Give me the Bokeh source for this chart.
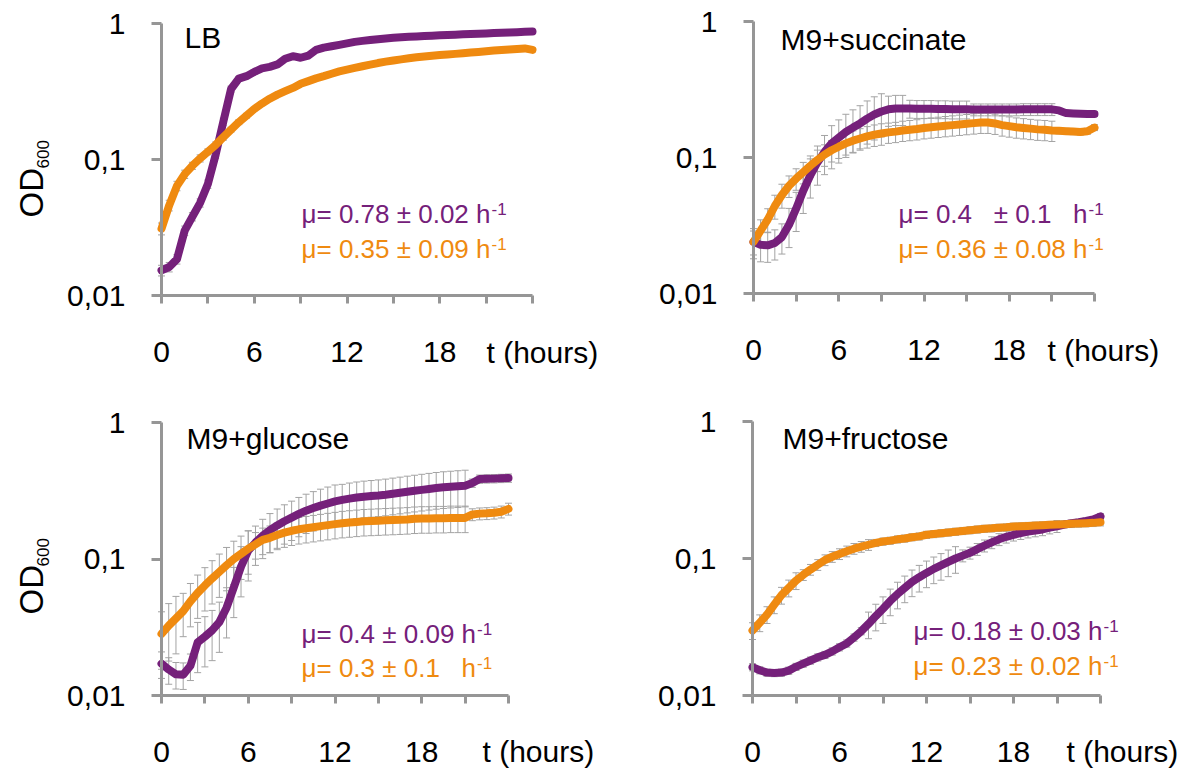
import math
from bokeh.plotting import figure
from bokeh.models import ColumnDataSource, Whisker, TeeHead, Label, FixedTicker, Range1d
from bokeh.layouts import row, column
from bokeh.embed import file_html
from bokeh.resources import INLINE

# ---------------- data ----------------
HOURS = [0.0, 0.5, 1.0, 1.5, 2.0, 2.5, 3.0, 3.5, 4.0, 4.5, 5.0, 5.5, 6.0, 6.5, 7.0, 7.5,
         8.0, 8.5, 9.0, 9.5, 10.0, 10.5, 11.0, 11.5, 12.0, 12.5, 13.0, 13.5, 14.0, 14.5,
         15.0, 15.5, 16.0, 16.5, 17.0, 17.5, 18.0, 18.5, 19.0, 19.5, 20.0, 20.5, 21.0,
         21.5, 22.0, 22.5, 23.0, 23.5, 24.0]

X_TICKS = [0, 3, 6, 9, 12, 15, 18, 21, 24]
X_TICK_LABELS = ["0", "", "6", "", "12", "", "18", "", ""]
X_BOUNDS = (0, 24)
Y_TICKS = [0.01, 0.1, 1]
Y_TICK_LABELS = ["0,01", "0,1", "1"]
Y_BOUNDS = (0.01, 1)
X_UNIT = "t (hours)"
Y_TITLE = "OD"
Y_TITLE_SUB = "600"

MEDIA = ["LB", "M9+succinate", "M9+glucose", "M9+fructose"]
RATE_PURPLE = ["μ= 0.78 ± 0.02 h", "μ= 0.4\u00a0\u00a0 ± 0.1\u00a0\u00a0 h",
               "μ= 0.4 ± 0.09 h", "μ= 0.18 ± 0.03 h"]
RATE_ORANGE = ["μ= 0.35 ± 0.09 h", "μ= 0.36 ± 0.08 h",
               "μ= 0.3 ± 0.1\u00a0\u00a0 h", "μ= 0.23 ± 0.02 h"]
RATE_EXP = "-1"

LB_PURPLE = [0.0153, 0.0162, 0.0185, 0.030, 0.038, 0.048, 0.066, 0.108, 0.190, 0.330,
             0.393, 0.410, 0.440, 0.468, 0.480, 0.500, 0.550, 0.575, 0.560, 0.580,
             0.640, 0.665, 0.680, 0.697, 0.715, 0.733, 0.745, 0.757, 0.767, 0.776,
             0.785, 0.792, 0.798, 0.804, 0.810, 0.814, 0.818, 0.823, 0.828, 0.832,
             0.836, 0.840, 0.845, 0.850, 0.855, 0.860, 0.864, 0.868, 0.873]
LB_PURPLE_ERR = [0.09, 0.08, 0.08, 0.08, 0.07, 0.07, 0.07, 0.06, 0.06, 0.05,
                 0.04, 0.04, 0.04, 0.03, 0.03, 0.03, 0.03, 0.03, 0.03, 0.03,
                 0.03, 0.03, 0.03, 0.03, 0.03, 0.03, 0.03, 0.03, 0.03, 0.03,
                 0.03, 0.03, 0.03, 0.03, 0.03, 0.03, 0.03, 0.03, 0.03, 0.03,
                 0.03, 0.03, 0.03, 0.03, 0.03, 0.03, 0.03, 0.03, 0.03]
LB_ORANGE = [0.031, 0.046, 0.064, 0.078, 0.090, 0.102, 0.114, 0.128, 0.146, 0.166,
             0.188, 0.210, 0.235, 0.258, 0.280, 0.300, 0.318, 0.336, 0.360, 0.377,
             0.395, 0.410, 0.427, 0.444, 0.458, 0.472, 0.485, 0.498, 0.512, 0.524,
             0.535, 0.545, 0.555, 0.564, 0.572, 0.580, 0.586, 0.592, 0.598, 0.605,
             0.612, 0.618, 0.625, 0.632, 0.638, 0.644, 0.650, 0.656, 0.640]
LB_ORANGE_ERR = [0.10, 0.09, 0.08, 0.07, 0.06, 0.06, 0.05, 0.05, 0.05, 0.04,
                 0.04, 0.04, 0.03, 0.03, 0.03, 0.03, 0.03, 0.03, 0.03, 0.03,
                 0.03, 0.03, 0.03, 0.03, 0.03, 0.03, 0.03, 0.03, 0.03, 0.03,
                 0.03, 0.03, 0.03, 0.03, 0.03, 0.03, 0.03, 0.03, 0.03, 0.03,
                 0.03, 0.03, 0.03, 0.03, 0.03, 0.03, 0.03, 0.03, 0.03]

SUC_PURPLE = [0.0240, 0.0228, 0.0226, 0.0235, 0.0260, 0.032, 0.042, 0.057, 0.074, 0.092,
              0.110, 0.127, 0.140, 0.154, 0.166, 0.178, 0.193, 0.207, 0.218, 0.226,
              0.229, 0.229, 0.229, 0.228, 0.228, 0.228, 0.227, 0.227, 0.226, 0.226,
              0.226, 0.225, 0.225, 0.225, 0.225, 0.225, 0.225, 0.225, 0.226, 0.226,
              0.226, 0.226, 0.226, 0.222, 0.212, 0.211, 0.210, 0.209, 0.209]
SUC_PURPLE_ERR = [0.25, 0.25, 0.25, 0.25, 0.25, 0.32, 0.32, 0.32, 0.32, 0.32,
                  0.32, 0.35, 0.35, 0.35, 0.35, 0.35, 0.35, 0.35, 0.35, 0.25,
                  0.25, 0.25, 0.15, 0.15, 0.15, 0.15, 0.15, 0.15, 0.15, 0.15,
                  0.15, 0.10, 0.10, 0.10, 0.10, 0.10, 0.10, 0.10, 0.10, 0.10,
                  0.10, 0.10, 0.10, 0.04, 0.04, 0.04, 0.04, 0.04, 0.04]
SUC_ORANGE = [0.0240, 0.0290, 0.0350, 0.0440, 0.0530, 0.062, 0.070, 0.078, 0.087, 0.096,
              0.105, 0.113, 0.120, 0.127, 0.133, 0.138, 0.143, 0.147, 0.150, 0.153,
              0.155, 0.158, 0.160, 0.162, 0.165, 0.167, 0.169, 0.171, 0.173, 0.175,
              0.177, 0.179, 0.181, 0.181, 0.178, 0.173, 0.170, 0.167, 0.165, 0.163,
              0.161, 0.160, 0.158, 0.157, 0.156, 0.155, 0.154, 0.156, 0.166]
SUC_ORANGE_ERR = [0.20, 0.20, 0.20, 0.20, 0.20, 0.18, 0.18, 0.18, 0.18, 0.18,
                  0.18, 0.18, 0.18, 0.18, 0.18, 0.18, 0.18, 0.18, 0.18, 0.17,
                  0.17, 0.17, 0.17, 0.17, 0.17, 0.17, 0.17, 0.17, 0.17, 0.17,
                  0.17, 0.17, 0.17, 0.17, 0.17, 0.17, 0.17, 0.17, 0.17, 0.17,
                  0.17, 0.17, 0.17, 0.05, 0.05, 0.05, 0.05, 0.05, 0.05]

GLU_PURPLE = [0.0171, 0.0155, 0.0143, 0.0142, 0.0165, 0.0245, 0.0270, 0.0300, 0.0345, 0.0440,
              0.0620, 0.0880, 0.115, 0.132, 0.148, 0.163, 0.176, 0.189, 0.201, 0.214,
              0.226, 0.236, 0.246, 0.255, 0.264, 0.271, 0.277, 0.282, 0.286, 0.289,
              0.292, 0.296, 0.301, 0.306, 0.311, 0.316, 0.321, 0.326, 0.331, 0.335,
              0.338, 0.341, 0.344, 0.360, 0.385, 0.387, 0.388, 0.390, 0.392]
GLU_PURPLE_ERR = [0.22, 0.22, 0.22, 0.22, 0.22, 0.40, 0.40, 0.40, 0.40, 0.40,
                  0.40, 0.40, 0.40, 0.32, 0.32, 0.32, 0.32, 0.32, 0.32, 0.32,
                  0.32, 0.32, 0.32, 0.32, 0.32, 0.30, 0.30, 0.30, 0.30, 0.30,
                  0.30, 0.30, 0.30, 0.30, 0.30, 0.30, 0.30, 0.30, 0.30, 0.30,
                  0.30, 0.30, 0.30, 0.07, 0.07, 0.07, 0.07, 0.07, 0.07]
GLU_ORANGE = [0.0283, 0.0325, 0.0367, 0.0415, 0.0490, 0.0565, 0.0640, 0.0720, 0.0805, 0.0900,
              0.1000, 0.1090, 0.1190, 0.1280, 0.1380, 0.1430, 0.1500, 0.1560, 0.1610, 0.1650,
              0.1680, 0.1710, 0.1740, 0.1770, 0.1800, 0.1830, 0.1850, 0.1870, 0.1890, 0.1900,
              0.1910, 0.1920, 0.1930, 0.1940, 0.1950, 0.1970, 0.1980, 0.1980, 0.1990, 0.1990,
              0.2000, 0.2000, 0.2000, 0.2120, 0.2150, 0.2160, 0.2180, 0.2220, 0.2330]
GLU_ORANGE_ERR = [0.45, 0.45, 0.45, 0.35, 0.35, 0.35, 0.35, 0.35, 0.35, 0.35,
                  0.35, 0.35, 0.35, 0.22, 0.22, 0.22, 0.22, 0.22, 0.22, 0.22,
                  0.22, 0.22, 0.22, 0.22, 0.22, 0.22, 0.22, 0.22, 0.22, 0.22,
                  0.22, 0.22, 0.22, 0.22, 0.22, 0.22, 0.22, 0.22, 0.22, 0.22,
                  0.22, 0.22, 0.22, 0.10, 0.10, 0.10, 0.10, 0.10, 0.10]

FRU_PURPLE = [0.0161, 0.0153, 0.0147, 0.0146, 0.0147, 0.0152, 0.0162, 0.0171, 0.0180, 0.0190,
              0.0198, 0.0210, 0.0225, 0.0240, 0.0265, 0.0295, 0.0333, 0.0380, 0.0430, 0.0490,
              0.0550, 0.0610, 0.0675, 0.0730, 0.0785, 0.0840, 0.0890, 0.0945, 0.1000, 0.1050,
              0.1100, 0.1170, 0.1240, 0.1310, 0.1380, 0.1440, 0.1490, 0.1530, 0.1570, 0.1600,
              0.1630, 0.1680, 0.1720, 0.1770, 0.1810, 0.1840, 0.1880, 0.1930, 0.2030]
FRU_PURPLE_ERR = [0.06, 0.06, 0.06, 0.06, 0.06, 0.06, 0.06, 0.06, 0.06, 0.06,
                  0.06, 0.06, 0.06, 0.06, 0.06, 0.06, 0.22, 0.22, 0.22, 0.22,
                  0.22, 0.22, 0.22, 0.22, 0.22, 0.22, 0.22, 0.22, 0.22, 0.10,
                  0.10, 0.10, 0.10, 0.10, 0.10, 0.10, 0.10, 0.10, 0.10, 0.10,
                  0.10, 0.10, 0.10, 0.05, 0.05, 0.05, 0.05, 0.05, 0.05]
FRU_ORANGE = [0.0298, 0.0340, 0.0390, 0.0460, 0.0540, 0.0610, 0.0690, 0.0760, 0.0830, 0.0900,
              0.0975, 0.1030, 0.1080, 0.1130, 0.1180, 0.1220, 0.1260, 0.1300, 0.1330, 0.1350,
              0.1380, 0.1400, 0.1430, 0.1450, 0.1490, 0.1510, 0.1530, 0.1550, 0.1570, 0.1590,
              0.1610, 0.1630, 0.1650, 0.1660, 0.1680, 0.1690, 0.1710, 0.1720, 0.1730, 0.1740,
              0.1750, 0.1760, 0.1770, 0.1780, 0.1790, 0.1800, 0.1810, 0.1820, 0.1840]
FRU_ORANGE_ERR = [0.14, 0.14, 0.14, 0.14, 0.14, 0.14, 0.14, 0.09, 0.09, 0.09,
                  0.09, 0.09, 0.09, 0.09, 0.09, 0.09, 0.09, 0.06, 0.06, 0.06,
                  0.06, 0.06, 0.06, 0.06, 0.06, 0.06, 0.06, 0.06, 0.06, 0.06,
                  0.06, 0.06, 0.06, 0.06, 0.06, 0.06, 0.06, 0.06, 0.06, 0.06,
                  0.06, 0.06, 0.06, 0.06, 0.06, 0.06, 0.06, 0.06, 0.06]

# ---------------- style ----------------
PURPLE = "#75207A"
ORANGE = "#EF8A10"
BAR_GREY = "#A3A3A3"
AXIS_GREY = "#969696"
FONT = "Liberation Sans"
BASELINE_FIX = 0.37   # rendered baseline sits this many em below the anchor

ARIAL_W = {"μ": 577, "=": 584, " ": 278, "\u00a0": 278, ".": 278, "±": 549, "h": 556}


def text_width(s, size):
    return sum(ARIAL_W.get(c, 556) for c in s) * size / 1000.0


def make_panel(k, ox, oy, w, h, L, R, T, B, purple, perr, orange, oerr, pos, standoff, ylabel=None):
    """(ox, oy): picture position of the canvas; L..R, T..B: picture pixels of the 0-24 h / 0.01-1 box."""
    s = (R - L) / 24.0          # px per hour
    D = (B - T) / 2.0           # px per decade
    xs = (ox - L) / s
    xe = (ox + w - L) / s
    ys = 10 ** (-2.0 + (B - (oy + h)) / D)
    ye = 10 ** (-2.0 + (B - oy) / D)

    p = figure(width=w, height=h, x_range=Range1d(xs, xe), y_range=Range1d(ys, ye),
               y_axis_type="log", output_backend="svg", toolbar_location=None,
               min_border=0, min_border_left=0, min_border_right=0,
               min_border_top=0, min_border_bottom=0)
    p.outline_line_color = None
    p.xgrid.visible = False
    p.ygrid.visible = False
    p.background_fill_color = "white"
    p.border_fill_color = "white"

    def dx(px):
        return (px - L) / s

    def dy(py):
        return 10 ** (-2.0 + (B - py) / D)

    for ax in (p.xaxis[0], p.yaxis[0]):
        ax.axis_line_color = AXIS_GREY
        ax.axis_line_width = 3
        ax.major_tick_line_color = AXIS_GREY
        ax.major_tick_line_width = 3
        ax.major_tick_in = 0
        ax.minor_tick_line_color = None
        ax.major_label_text_font = FONT
        ax.major_label_text_font_size = "30px"
        ax.major_label_text_color = "black"
    p.xaxis.fixed_location = Y_BOUNDS[0]
    p.xaxis.bounds = X_BOUNDS
    p.xaxis.ticker = FixedTicker(ticks=X_TICKS, minor_ticks=[])
    p.xaxis.major_label_overrides = dict(zip(X_TICKS, X_TICK_LABELS))
    p.xaxis.major_tick_out = 8
    p.xaxis.major_label_standoff = standoff
    p.yaxis.fixed_location = X_BOUNDS[0]
    p.yaxis.bounds = Y_BOUNDS
    p.yaxis.ticker = FixedTicker(ticks=Y_TICKS, minor_ticks=[])
    p.yaxis.major_label_overrides = dict(zip(Y_TICKS, Y_TICK_LABELS))
    p.yaxis.major_tick_out = 10
    p.yaxis.major_label_standoff = 26

    for vals, errs in ((purple, perr), (orange, oerr)):
        assert len(vals) == len(HOURS) and len(errs) == len(HOURS)
        src = ColumnDataSource(dict(
            t=HOURS, v=vals,
            lo=[v * (1 - e) for v, e in zip(vals, errs)],
            hi=[v * (1 + e) for v, e in zip(vals, errs)]))
        p.add_layout(Whisker(source=src, base="t", lower="lo", upper="hi",
                             line_color=BAR_GREY, line_width=1,
                             upper_head=TeeHead(size=7, line_color=BAR_GREY, line_width=1),
                             lower_head=TeeHead(size=7, line_color=BAR_GREY, line_width=1)))
    for vals, col in ((purple, PURPLE), (orange, ORANGE)):
        src = ColumnDataSource(dict(t=HOURS, v=vals))
        p.line("t", "v", source=src, line_color=col, line_width=8,
               line_cap="round", line_join="round")

    def lab(px, py, text, size, color="black", rotated=False):
        if rotated:
            px = px - BASELINE_FIX * size
        else:
            py = py - BASELINE_FIX * size
        p.add_layout(Label(x=dx(px), y=dy(py), x_units="data", y_units="data", text=text,
                           text_font=FONT, text_font_size=f"{size}px", text_color=color,
                           text_align="left", text_baseline="alphabetic",
                           angle=(math.pi / 2 if rotated else 0.0)))

    lab(pos["title"][0], pos["title"][1], MEDIA[k], 30)
    rx, ry1, ry2 = pos["rate"]
    for txt, col, ry in ((RATE_PURPLE[k], PURPLE, ry1), (RATE_ORANGE[k], ORANGE, ry2)):
        lab(rx, ry, txt, 26, col)
        lab(rx + text_width(txt, 26) + 1, ry - 8, RATE_EXP, 17, col)
    lab(pos["unit"][0], pos["unit"][1], X_UNIT, 30)
    if ylabel is not None:
        (ax_, ay_), (sx_, sy_) = ylabel
        lab(ax_, ay_, Y_TITLE, 33, rotated=True)
        lab(sx_, sy_, Y_TITLE_SUB, 17, rotated=True)
    return p


p1 = make_panel(0, 0, 0, 650, 400, 161, 532, 23, 295,
                LB_PURPLE, LB_PURPLE_ERR, LB_ORANGE, LB_ORANGE_ERR,
                dict(title=(184, 48), rate=(301, 223, 258), unit=(486, 363)), 38,
                ylabel=((43, 217), (49, 168)))
p2 = make_panel(1, 650, 0, 528, 400, 753, 1094, 21, 293,
                SUC_PURPLE, SUC_PURPLE_ERR, SUC_ORANGE, SUC_ORANGE_ERR,
                dict(title=(780, 50), rate=(898, 223, 258), unit=(1047, 361)), 38)
p3 = make_panel(2, 0, 400, 650, 370, 161, 508, 422, 695,
                GLU_PURPLE, GLU_PURPLE_ERR, GLU_ORANGE, GLU_ORANGE_ERR,
                dict(title=(186, 449), rate=(301, 643, 677), unit=(482, 762)), 38,
                ylabel=((43, 614), (49, 566)))
p4 = make_panel(3, 650, 400, 528, 370, 752, 1100, 421, 695,
                FRU_PURPLE, FRU_PURPLE_ERR, FRU_ORANGE, FRU_ORANGE_ERR,
                dict(title=(782, 449), rate=(913, 640, 675), unit=(1066, 762)), 38)

layout = column(row(p1, p2), row(p3, p4))
open("out.html", "w").write(file_html(layout, INLINE))
